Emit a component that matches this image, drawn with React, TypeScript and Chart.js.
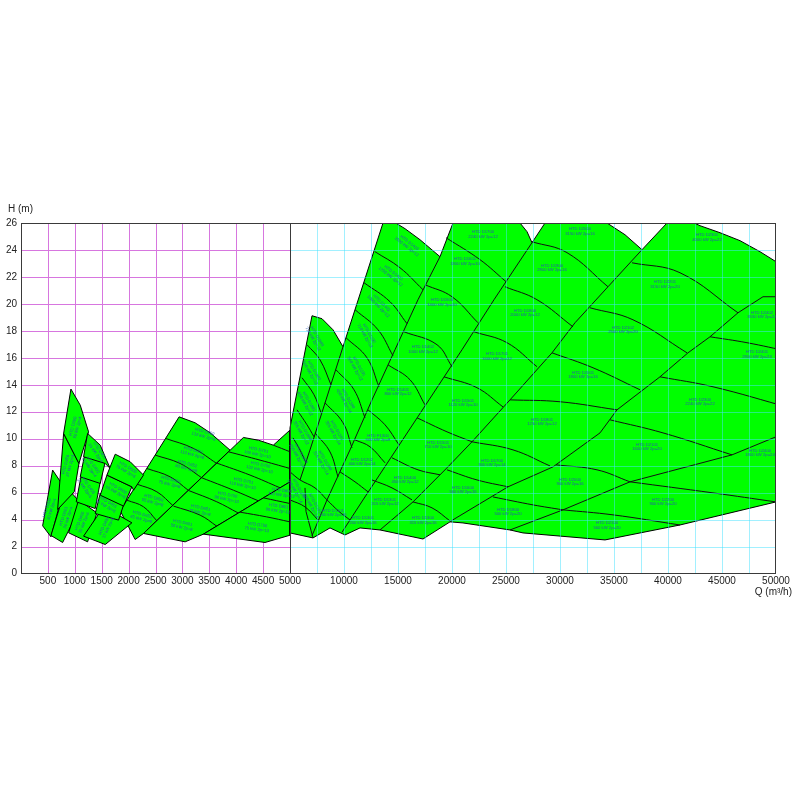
import React, { useEffect, useRef } from 'react';
import { Chart, LinearScale, registerables } from 'chart.js';

type P = [number, number];
type Lab = [number, number, number, string, string];

// ---------- axes ----------
const Q_BREAK = 5000;
const Q_MAX = 50000;
const H_MAX = 26;
const X_TICKS = [0, 500, 1000, 1500, 2000, 2500, 3000, 3500, 4000, 4500, 5000, 7500, 10000, 12500, 15000, 17500, 20000, 22500, 25000, 27500, 30000, 32500, 35000, 37500, 40000, 42500, 45000, 47500, 50000];
const X_LABELED = [500, 1000, 1500, 2000, 2500, 3000, 3500, 4000, 4500, 5000, 10000, 15000, 20000, 25000, 30000, 35000, 40000, 45000, 50000];
const GRID_Q_LEFT = [500, 1000, 1500, 2000, 2500, 3000, 3500, 4000, 4500];
const GRID_Q_RIGHT = [7500, 10000, 12500, 15000, 17500, 20000, 22500, 25000, 27500, 30000, 32500, 35000, 37500, 40000, 42500, 45000, 47500];
const GRID_H = [2, 4, 6, 8, 10, 12, 14, 16, 18, 20, 22, 24];

// ---------- left part (Q < 5000) : single pump windows ----------
const D300: P[] = [[402, 3.54], [588, 7.67], [804, 6.38], [557, 2.72]];
const D301: P[] = [[557, 2.82], [835, 6.43], [1132, 5.14], [774, 2.30]];
const D350A: P[] = [[681, 4.75], [792, 10.39], [1077, 8.16], [990, 6.06]];
const D350B: P[] = [[792, 10.39], [928, 13.68], [1101, 12.49], [1256, 10.51], [1077, 8.16]];
const D400: P[] = [[885, 3.02], [1071, 5.44], [1411, 4.50], [1238, 2.35]];
const D403: P[] = [[1027, 5.32], [1132, 7.54], [1473, 6.80], [1380, 4.82]];
const D402: P[] = [[1101, 7.17], [1194, 9.03], [1566, 8.29], [1473, 6.68]];
const D401: P[] = [[1163, 8.66], [1238, 10.39], [1473, 9.52], [1658, 7.79], [1566, 8.16]];
const D450: P[] = [[1163, 2.77], [1535, 4.95], [2061, 3.76], [1566, 2.15]];
const D451: P[] = [[1380, 4.45], [1473, 5.94], [1906, 5.07], [1813, 3.96]];
const D500A: P[] = [[1473, 5.81], [1597, 7.30], [2061, 6.43], [1906, 5.00]];
const D500B: P[] = [[1597, 7.30], [1751, 8.85], [2030, 8.29], [2277, 7.30], [2092, 6.18], [2061, 6.43]];

// fans
const FAN_E: P[] = [[1844, 4.65], [2939, 11.62], [3236, 11.18], [3515, 10.44], [3886, 9.15], [2277, 2.97], [2122, 2.52]];
const FAN_F: P[] = [[2277, 2.97], [4134, 10.09], [4412, 9.89], [4690, 9.52], [5000, 10.64], [5000, 6.80], [3391, 2.92], [3051, 2.35]];
const FAN_G: P[] = [[3391, 2.92], [5000, 6.80], [5000, 2.84], [4536, 2.30]];
const CURVES_E: P[][] = [
  [[2686, 10.02], [3205, 9.28], [3639, 8.16]],
  [[2494, 8.78], [2958, 8.16], [3360, 7.10]],
  [[2339, 7.79], [2772, 7.17], [3113, 6.16]],
  [[2153, 6.63], [2525, 6.06], [2834, 5.00]],
  [[1968, 5.44], [2277, 4.95], [2525, 3.91]],
];
const CURVES_F: P[][] = [
  [[4690, 9.52], [5000, 9.03]],
  [[3855, 9.03], [4443, 8.41], [5000, 7.79]],
  [[3639, 8.19], [4257, 7.30], [4814, 6.36]],
  [[3360, 7.10], [3948, 6.18], [4412, 5.39]],
  [[3113, 6.16], [3639, 5.32], [4041, 4.48]],
  [[2834, 5.00], [3329, 4.33], [3639, 3.51]],
];
const CURVES_G: P[][] = [
  [[4505, 5.61], [5000, 5.19]],
  [[4072, 4.55], [4567, 4.20], [5000, 3.83]],
];

// ---------- right part (Q > 5000) ----------
const OUT_RIGHT: P[] = [
  [5000, 10.81], [7037, 19.12], [7963, 18.90], [8981, 18.08], [9907, 16.82], [13611, 26.0], [14444, 26.17],
  [15648, 25.58], [17037, 24.76], [18889, 23.50], [20093, 26.0], [20556, 26.84], [22593, 27.14], [24907, 26.99],
  [26296, 26.0], [26944, 25.36], [27407, 24.54], [28611, 26.0], [29074, 26.84], [31852, 27.14], [33704, 26.69],
  [34352, 26.0], [36019, 25.13], [37593, 24.02], [39907, 26.0], [40370, 26.47], [41574, 26.32], [42963, 25.80],
  [44815, 25.28], [46667, 24.69], [48519, 23.87], [50000, 23.13], [51300, 22.3], [51300, 4.7], [50000, 5.31],
  [41111, 3.60], [34167, 2.49], [26574, 3.01], [25370, 3.23], [21018, 3.75], [19815, 3.83], [17315, 2.56],
  [13333, 3.23], [11481, 3.38], [10093, 2.86], [8704, 3.38], [7130, 2.64], [5000, 3.01],
];
const EDGES_RIGHT: P[][] = [
  [[9907, 16.82], [8333, 12.88], [6852, 9.17], [5926, 6.94]],
  [[18889, 23.5], [16852, 20.31], [14722, 16.6], [12593, 12.88], [10556, 9.17], [8426, 5.46], [7037, 2.8]],
  [[27407, 24.54], [23889, 20.31], [20926, 16.6], [17870, 12.88], [14815, 9.17], [11759, 5.46], [9806, 3.05]],
  [[37593, 24.02], [34444, 21.27], [31389, 18.60], [29259, 16.37], [25370, 12.88], [21852, 9.77], [19537, 7.84], [16389, 5.31], [13333, 3.23]],
  [[51300, 20.53], [48796, 20.53], [46481, 19.34], [43889, 17.56], [41852, 16.37], [39259, 14.59], [35278, 12.14], [33704, 10.43], [29352, 7.91], [25185, 6.43], [19815, 3.85]],
  [[25370, 3.23], [30278, 4.72], [36481, 6.80], [45926, 8.80], [50000, 10.14], [51300, 10.58]],
  [[6389, 6.35], [6481, 4.6], [7130, 2.64]],
];
const CURVES_R1: P[][] = [
  [[6574, 16.97], [7778, 15.85], [8796, 14.00]],
  [[6111, 14.52], [7222, 13.26], [7870, 11.92]],
  [[5648, 12.14], [6574, 11.03], [7222, 10.14]],
  [[5278, 10.06], [5926, 9.17], [6481, 8.21]],
  [[5000, 5.46], [6389, 4.94], [7593, 3.97]],
  [[8426, 5.46], [9537, 4.6], [10556, 3.97]],
];
const CURVES_R2: P[][] = [
  [[12870, 23.87], [15185, 22.68], [17315, 21.05]],
  [[11852, 21.57], [14259, 20.16], [15833, 18.53]],
  [[11019, 19.57], [13148, 18.08], [14537, 16.15]],
  [[10185, 17.49], [12129, 16.0], [13241, 13.85]],
  [[9259, 15.11], [10926, 13.63], [11944, 11.55]],
  [[8241, 12.66], [9907, 11.18], [10741, 9.32]],
  [[7315, 10.43], [8704, 9.02], [9444, 7.17]],
  [[5000, 7.54], [5926, 6.94], [7315, 6.35], [8426, 5.46]],
];
const CURVES_R3: P[][] = [
  [[19444, 24.91], [22593, 23.28], [25000, 21.65]],
  [[17500, 21.42], [20000, 20.53], [22407, 18.60]],
  [[15556, 17.93], [18611, 16.97], [20000, 15.34]],
  [[14074, 15.48], [16111, 14.37], [17500, 12.51]],
  [[12222, 12.14], [13796, 11.03], [15093, 9.54]],
  [[11019, 9.91], [12407, 9.40], [13796, 8.21]],
  [[9630, 7.54], [11019, 6.80], [12222, 6.06]],
];
const CURVES_R4: P[][] = [
  [[27407, 24.61], [30648, 23.80], [34444, 21.27]],
  [[24907, 21.27], [27870, 20.31], [31204, 18.30]],
  [[22037, 17.93], [25093, 17.12], [27870, 15.34]],
  [[19259, 14.59], [22315, 13.78], [24722, 12.36]],
  [[16759, 11.55], [19537, 10.51], [21852, 9.77]],
  [[14444, 8.58], [16852, 7.69], [18889, 7.32]],
  [[12593, 6.94], [14444, 6.35], [16296, 5.46]],
];
const CURVES_R5: P[][] = [
  [[36667, 23.05], [41111, 22.31], [46481, 19.34]],
  [[32778, 19.71], [36759, 18.82], [41759, 16.37]],
  [[29259, 16.37], [33056, 15.26], [37407, 13.63]],
  [[25370, 12.88], [30000, 12.74], [35278, 12.14]],
  [[21852, 9.77], [25648, 9.17], [29074, 7.98]],
  [[19537, 7.69], [22315, 6.94], [25185, 6.43]],
  [[16389, 5.31], [18148, 4.87], [19815, 3.90]],
];
const CURVES_R6: P[][] = [
  [[43889, 17.56], [47315, 17.12], [51300, 16.45]],
  [[39259, 14.59], [44167, 13.85], [51300, 12.29]],
  [[34630, 11.40], [39537, 10.43], [45926, 8.80]],
  [[29630, 8.06], [33426, 7.69], [36481, 6.80]],
  [[23796, 5.68], [27500, 5.09], [30278, 4.72]],
  [[36481, 6.80], [44167, 5.98], [50000, 5.31]],
  [[30278, 4.72], [34907, 4.35], [41111, 3.60]],
];

// ---------- labels: Q, H, angle, name, rating ----------
const LABELS_LEFT: Lab[] = [
  [526, 4.82, -72, 'HTD D300', '30 kW 2p=4'],
  [835, 4.20, -72, 'HTD D301', '30 kW 2p=4'],
  [873, 8.04, -75, 'HTD D350', '37 kW 2p=4'],
  [1009, 10.88, -75, 'HTD D350', '55 kW 2p=4'],
  [1132, 3.83, -68, 'HTD D400', '30 kW 2p=6'],
  [1213, 6.43, 55, 'HTD D403', '37 kW 2p=6'],
  [1300, 7.96, 55, 'HTD D402', '45 kW 2p=4'],
  [1423, 9.03, 55, 'HTD D401', '55 kW 2p=4'],
  [1584, 3.46, -65, 'HTD D450', '37 kW 2p=6'],
  [1597, 5.14, 30, 'HTD D451', '45 kW 2p=6'],
  [1782, 6.18, 30, 'HTD D500', '55 kW 2p=6'],
  [1968, 7.72, 30, 'HTD D500', '75 kW 2p=6'],
  [3403, 10.34, 15, 'HTD D650', '132 kW 2p=8'],
  [3193, 8.98, 15, 'HTD D651', '110 kW 2p=8'],
  [3082, 7.96, 15, 'HTD D652', '90 kW 2p=8'],
  [2772, 6.78, 15, 'HTD D650', '75 kW 2p=8'],
  [2457, 5.44, 15, 'HTD D650', '55 kW 2p=8'],
  [2246, 4.20, 15, 'HTD D651', '45 kW 2p=8'],
  [4406, 9.00, 12, 'HTD D701', '160 kW 2p=10'],
  [4443, 7.89, 12, 'HTD D700', '132 kW 2p=10'],
  [4127, 6.70, 12, 'HTD D701', '110 kW 2p=10'],
  [3830, 5.66, 12, 'HTD D700', '90 kW 2p=10'],
  [3329, 4.70, 12, 'HTD D651', '75 kW 2p=8'],
  [2995, 3.59, 12, 'HTD D601', '55 kW 2p=8'],
  [4845, 5.99, 8, 'HTD D800', '110 kW 2p=12'],
  [4783, 4.82, 8, 'HTD D801', '90 kW 2p=12'],
  [4387, 3.44, 8, 'HTD D750', '75 kW 2p=10'],
];
const LABELS_RIGHT: Lab[] = [
  [7315, 17.49, 60, 'HTD D1003', '710 kW 2p=12'],
  [7037, 14.96, 60, 'HTD D1002', '560 kW 2p=12'],
  [6574, 12.66, 60, 'HTD D1001', '450 kW 2p=12'],
  [6204, 10.51, 60, 'HTD D1000', '355 kW 2p=12'],
  [5833, 8.80, 60, 'HTD D1000', '250 kW 2p=14'],
  [15926, 24.39, 38, 'HTD D1403', '1600 kW 2p=12'],
  [14444, 22.16, 38, 'HTD D1402', '1250 kW 2p=12'],
  [13333, 19.94, 45, 'HTD D1402', '1000 kW 2p=12'],
  [12129, 17.71, 60, 'HTD D1102', '710 kW 2p=12'],
  [11204, 15.26, 60, 'HTD D1101', '560 kW 2p=12'],
  [10185, 12.88, 60, 'HTD D1200', '450 kW 2p=14'],
  [9167, 10.51, 60, 'HTD D1201', '355 kW 2p=14'],
  [8056, 8.28, 60, 'HTD D1200', '315 kW 2p=14'],
  [7130, 5.09, 60, 'HTD D1101', '250 kW 2p=14'],
  [5648, 6.20, 60, 'HTD D1100', '160 kW 2p=14'],
  [8981, 4.50, 0, 'HTD D1101', '200 kW 2p=16'],
  [11759, 3.97, 0, 'HTD D1301', '200 kW 2p=16'],
  [22870, 25.13, 0, 'HTD D1700', '2240 kW 2p=12'],
  [21204, 23.13, 0, 'HTD D1602', '1800 kW 2p=10'],
  [19074, 20.09, 0, 'HTD D1500', '1400 kW 2p=10'],
  [17315, 16.6, 0, 'HTD D1402', '1000 kW 2p=12'],
  [15000, 13.48, 0, 'HTD D1401', '800 kW 2p=12'],
  [13148, 10.06, 0, 'HTD F1300', '500 kW 2p=8'],
  [11667, 8.28, 0, 'HTD D1202', '400 kW 2p=14'],
  [31852, 25.36, 0, 'HTD D2000', '3150 kW 2p=16'],
  [29259, 22.68, 0, 'HTD D1900', '2800 kW 2p=16'],
  [26759, 19.34, 0, 'HTD D1800', '2000 kW 2p=12'],
  [24167, 16.08, 0, 'HTD D1701', '1600 kW 2p=12'],
  [21018, 12.66, 0, 'HTD D1501', '1120 kW 2p=10'],
  [18704, 9.54, 0, 'HTD D1501', '710 kW 2p=10'],
  [15648, 6.94, 0, 'HTD D1400', '450 kW 2p=12'],
  [13796, 5.31, 0, 'HTD D1301', '315 kW 2p=12'],
  [43611, 24.91, 0, 'HTD D2301', '4000 kW 2p=22'],
  [39722, 21.42, 0, 'HTD D2201', '3150 kW 2p=20'],
  [35833, 18.08, 0, 'HTD D2102', '2500 kW 2p=20'],
  [32130, 14.74, 0, 'HTD D2001', '1800 kW 2p=16'],
  [28333, 11.25, 0, 'HTD D1801', '1250 kW 2p=12'],
  [23704, 8.21, 0, 'HTD D1700', '900 kW 2p=14'],
  [21018, 6.20, 0, 'HTD D1600', '560 kW 2p=16'],
  [17315, 3.97, 0, 'HTD D1300', '315 kW 2p=16'],
  [48704, 19.19, 0, 'HTD D2402', '3550 kW 2p=24'],
  [48241, 16.23, 0, 'HTD D2401', '2800 kW 2p=24'],
  [42963, 12.74, 0, 'HTD D2300', '2240 kW 2p=22'],
  [38056, 9.40, 0, 'HTD D2101', '1600 kW 2p=20'],
  [48519, 8.95, 0, 'HTD D2400', '1800 kW 2p=24'],
  [30926, 6.80, 0, 'HTD D2000', '900 kW 2p=16'],
  [39537, 5.31, 0, 'HTD D2200', '900 kW 2p=20'],
  [25185, 4.57, 0, 'HTD D1800', '500 kW 2p=20'],
  [34352, 3.60, 0, 'HTD D2100', '560 kW 2p=20'],
];

// ---------- styling ----------
const GREEN = '#00ff00';
const MAGENTA = '#d776df';
const CYAN = 'rgba(70,226,255,0.5)';
const FRAME = '#3a3a3a';
const LABEL_COLOR = '#2a55b0';
const FONT = "'Liberation Sans', Arial, sans-serif";
const LEFT_FRAC = 0.3563;

class SplitScale extends LinearScale {
  static id = 'split';
  static defaults = {};
  buildTicks() {
    return X_TICKS.map((v) => ({ value: v }));
  }
  getPixelForValue(value: number) {
    const f = value <= Q_BREAK
      ? (value / Q_BREAK) * LEFT_FRAC
      : LEFT_FRAC + ((value - Q_BREAK) / (Q_MAX - Q_BREAK)) * (1 - LEFT_FRAC);
    return this.getPixelForDecimal(f);
  }
  getValueForPixel(pixel: number) {
    const f = this.getDecimalForPixel(pixel);
    return f <= LEFT_FRAC
      ? (f / LEFT_FRAC) * Q_BREAK
      : Q_BREAK + ((f - LEFT_FRAC) / (1 - LEFT_FRAC)) * (Q_MAX - Q_BREAK);
  }
}

Chart.register(...registerables, SplitScale as any);

const toXY = (pts: P[]) => pts.map(([x, y]) => ({ x, y }));
const polyDs = (pts: P[]) => ({
  data: toXY([...pts, pts[0]]), showLine: true, pointRadius: 0, pointHoverRadius: 0,
  borderColor: '#000', borderWidth: 1, tension: 0, fill: false, clip: 0, polyColor: GREEN,
});
const lineDs = (pts: P[], tension = 0.4) => ({
  data: toXY(pts), showLine: true, pointRadius: 0, pointHoverRadius: 0,
  borderColor: '#111', borderWidth: 1, tension, fill: false, clip: 0,
});

const clipArea = (chart: any) => {
  const a = chart.chartArea;
  chart.ctx.beginPath();
  chart.ctx.rect(a.left, a.top, a.right - a.left, a.bottom - a.top);
  chart.ctx.clip();
};

const polyFillPlugin = {
  id: 'polyFill',
  beforeDatasetDraw(chart: any, args: any) {
    const ds = chart.data.datasets[args.index];
    if (!ds.polyColor) return;
    const ctx = chart.ctx;
    ctx.save();
    clipArea(chart);
    ctx.beginPath();
    args.meta.data.forEach((p: any, i: number) => (i ? ctx.lineTo(p.x, p.y) : ctx.moveTo(p.x, p.y)));
    ctx.closePath();
    ctx.fillStyle = ds.polyColor;
    ctx.fill();
    ctx.restore();
  },
};

const drawLabels = (chart: any, list: Lab[]) => {
  const { ctx, scales } = chart;
  ctx.save();
  clipArea(chart);
  ctx.fillStyle = LABEL_COLOR;
  ctx.font = `4.2px ${FONT}`;
  ctx.textAlign = 'center';
  ctx.textBaseline = 'middle';
  for (const [q, h, ang, l1, l2] of list) {
    const x = scales.x.getPixelForValue(q);
    const y = scales.y.getPixelForValue(h);
    ctx.save();
    ctx.translate(x, y);
    ctx.rotate((ang * Math.PI) / 180);
    ctx.fillText(l1, 0, -2.4);
    ctx.fillText(l2, 0, 2.4);
    ctx.restore();
  }
  ctx.restore();
};

const gridPlugin = {
  id: 'splitGrid',
  beforeDatasetsDraw(chart: any) {
    const { ctx, chartArea: a, scales } = chart;
    const xb = scales.x.getPixelForValue(Q_BREAK);
    ctx.save();
    ctx.lineWidth = 1;
    ctx.strokeStyle = MAGENTA;
    ctx.beginPath();
    for (const v of GRID_Q_LEFT) {
      const px = Math.round(scales.x.getPixelForValue(v)) + 0.5;
      ctx.moveTo(px, a.top); ctx.lineTo(px, a.bottom);
    }
    for (const v of GRID_H) {
      const py = Math.round(scales.y.getPixelForValue(v)) + 0.5;
      ctx.moveTo(a.left, py); ctx.lineTo(xb, py);
    }
    ctx.stroke();
    ctx.restore();
  },
  afterDatasetsDraw(chart: any) {
    const { ctx, chartArea: a, scales } = chart;
    const xb = scales.x.getPixelForValue(Q_BREAK);
    ctx.save();
    ctx.lineWidth = 1;
    ctx.strokeStyle = CYAN;
    ctx.beginPath();
    for (const v of GRID_Q_RIGHT) {
      const px = Math.round(scales.x.getPixelForValue(v)) + 0.5;
      ctx.moveTo(px, a.top); ctx.lineTo(px, a.bottom);
    }
    for (const v of GRID_H) {
      const py = Math.round(scales.y.getPixelForValue(v)) + 0.5;
      ctx.moveTo(xb, py); ctx.lineTo(a.right, py);
    }
    ctx.stroke();
    ctx.strokeStyle = FRAME;
    const l = Math.round(a.left) + 0.5, t = Math.round(a.top) + 0.5;
    const r = Math.round(a.right) - 0.5, b = Math.round(a.bottom) - 0.5;
    ctx.strokeRect(l, t, r - l, b - t);
    ctx.beginPath();
    const pb = Math.round(xb) + 0.5;
    ctx.moveTo(pb, a.top); ctx.lineTo(pb, a.bottom);
    ctx.stroke();
    ctx.restore();
    drawLabels(chart, LABELS_LEFT);
    drawLabels(chart, LABELS_RIGHT);
  },
  afterDraw(chart: any) {
    const { ctx, chartArea: a, width } = chart;
    ctx.save();
    ctx.fillStyle = '#222';
    ctx.font = `10px ${FONT}`;
    ctx.textBaseline = 'middle';
    ctx.textAlign = 'left';
    ctx.fillText('H (m)', 8, a.top - 14);
    ctx.textAlign = 'right';
    ctx.fillText('Q (m³/h)', width - 8, a.bottom + 19);
    ctx.restore();
  },
};

export default function App() {
  const ref = useRef<HTMLCanvasElement | null>(null);
  useEffect(() => {
    if (!ref.current) return;
    // listed in painting order (first = bottom); Chart.js paints dataset 0 last, so reverse
    const paintOrder: any[] = [
      polyDs(FAN_E), ...CURVES_E.map((c) => lineDs(c)),
      polyDs(FAN_F), ...CURVES_F.map((c) => lineDs(c)),
      polyDs(FAN_G), ...CURVES_G.map((c) => lineDs(c)),
      polyDs(D300), polyDs(D301), polyDs(D350A), polyDs(D350B),
      polyDs(D400), polyDs(D403), polyDs(D402), polyDs(D401),
      polyDs(D450), polyDs(D451), polyDs(D500A), polyDs(D500B),
      polyDs(OUT_RIGHT),
      ...EDGES_RIGHT.map((c) => lineDs(c, 0)),
      ...[...CURVES_R1, ...CURVES_R2, ...CURVES_R3, ...CURVES_R4, ...CURVES_R5, ...CURVES_R6].map((c) => lineDs(c)),
    ];
    const datasets = paintOrder.slice().reverse();
    const tickFont = { family: FONT, size: 10 };
    const chart = new Chart(ref.current, {
      type: 'scatter',
      data: { datasets },
      options: {
        animation: false,
        responsive: true,
        maintainAspectRatio: false,
        events: [],
        layout: { padding: { left: 0, top: 223, right: 24, bottom: 196.5 } },
        plugins: { legend: { display: false }, tooltip: { enabled: false } },
        scales: {
          x: {
            type: 'split' as any,
            min: 0,
            max: Q_MAX,
            grid: { display: false, drawTicks: false },
            border: { display: false },
            ticks: {
              autoSkip: false, maxRotation: 0, minRotation: 0, padding: 2,
              color: '#222', font: tickFont,
              callback: (v: any) => (X_LABELED.includes(Number(v)) ? String(v) : ''),
            },
            afterFit: (s: any) => { s.height = 30; },
          },
          y: {
            type: 'linear',
            min: 0,
            max: H_MAX,
            grid: { display: false, drawTicks: false },
            border: { display: false },
            ticks: { stepSize: 2, padding: 4, color: '#222', font: tickFont },
            afterFit: (s: any) => { s.width = 21; },
          },
        },
      } as any,
      plugins: [polyFillPlugin, gridPlugin],
    });
    return () => chart.destroy();
  }, []);
  return (
    <div style={{ position: 'absolute', left: 0, top: 0, width: 800, height: 800 }}>
      <canvas ref={ref} />
    </div>
  );
}
